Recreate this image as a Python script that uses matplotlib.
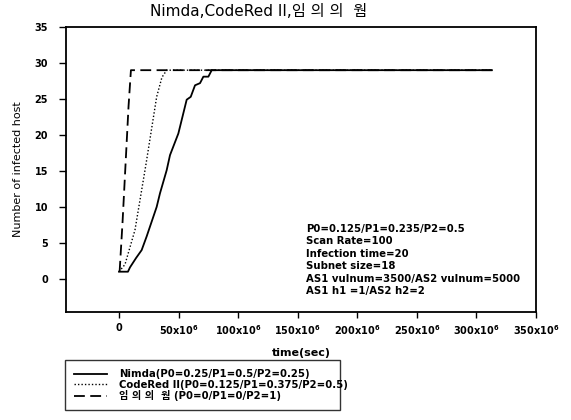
import matplotlib
matplotlib.use("Agg")
import matplotlib.pyplot as plt
import numpy as np

plt.rcParams['font.family'] = ['DejaVu Sans', 'Noto Sans CJK KR']

# time in units of 1e6 sec, infected hosts
nimda_t = [0, 7.5, 9.2, 14.3, 19, 23.2, 27.5, 31.6, 34.4, 40, 42.8, 49.8, 56.8, 60.2,
           63.8, 68, 70.8, 75, 77.8, 313]
nimda_y = [1, 1, 1.6, 2.9, 4, 5.9, 8, 10, 11.9, 15.1, 17.2, 20.2, 24.9, 25.3,
           26.9, 27.2, 28.1, 28.1, 29, 29]

codered_t = [0, 5, 13.4, 22.7, 31.6, 36, 40, 313]
codered_y = [1, 2, 6.8, 16, 25.3, 28, 29, 29]

random_t = [0.5, 3, 5.5, 8, 10, 313]
random_y = [1, 8, 16, 24, 29, 29]

labels = ['Nimda(P0=0.25/P1=0.5/P2=0.25)',
          'CodeRed II(P0=0.125/P1=0.375/P2=0.5)',
          '임 의 의  웜 (P0=0/P1=0/P2=1)']

xticks = [0, 50, 100, 150, 200, 250, 300, 350]
yticks = [0, 5, 10, 15, 20, 25, 30, 35]

info = ("P0=0.125/P1=0.235/P2=0.5\nScan Rate=100\nInfection time=20\n"
        "Subnet size=18\nAS1 vulnum=3500/AS2 vulnum=5000\nAS1 h1 =1/AS2 h2=2")

fig = plt.figure(figsize=(5.71, 4.2), dpi=100)
ax = fig.add_axes([66/571, 1-312/420, 470/571, 285/420])

ax.plot(np.array(nimda_t)*1e6, nimda_y, color='black', lw=1.3, ls='-', label=labels[0])
ax.plot(np.array(codered_t)*1e6, codered_y, color='black', lw=1.0, ls=(0, (1, 1.5)), label=labels[1])
ax.plot(np.array(random_t)*1e6, random_y, color='black', lw=1.3, ls=(0, (6, 3)), label=labels[2])

ax.set_xlim(-44.5e6, 350e6)
ax.set_ylim(-4.6, 35)
ax.set_xticks([v*1e6 for v in xticks])
ax.set_xticklabels(['0'] + [r'%dx10$^{\mathbf{6}}$' % v for v in xticks[1:]],
                   fontsize=7, fontweight='bold')
ax.set_yticks(yticks)
ax.set_yticklabels([str(v) for v in yticks], fontsize=7, fontweight='bold')
ax.tick_params(axis='x', direction='out', length=4, width=1, pad=4)
ax.tick_params(axis='y', direction='out', length=5, width=1, pad=8)
for s in ax.spines.values():
    s.set_linewidth(1.3)

ax.set_ylabel('Number of infected host', fontsize=8, labelpad=8)
ax.set_xlabel('time(sec)', fontsize=8, fontweight='bold', labelpad=8)

ax.text((306-66)/470, (312-224)/285, info, transform=ax.transAxes,
        fontsize=7.3, fontweight='bold', va='top', ha='left', linespacing=1.3)

fig.text(259/571, 1-12/420, 'Nimda,CodeRed II,임 의 의  웜', fontsize=11,
         ha='center', va='center')

leg = fig.legend(loc='upper left', bbox_to_anchor=(65/571, 7/420, 275/571, 53/420),
                 mode='expand', frameon=True, fancybox=False, edgecolor='black',
                 handlelength=3.2, handletextpad=1.2, labelspacing=0.05,
                 borderpad=0.9, borderaxespad=0,
                 prop={'weight': 'bold', 'size': 7.3})
leg.get_frame().set_linewidth(1.0)

fig.savefig('out.png', dpi=100)
